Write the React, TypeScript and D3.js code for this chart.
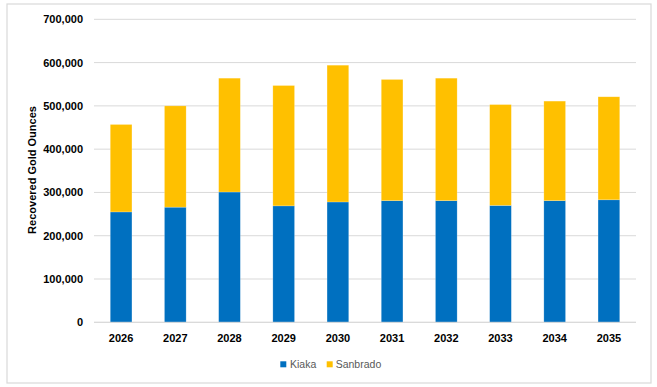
import React from "react";
import * as d3 from "d3";

const years = ["2026", "2027", "2028", "2029", "2030", "2031", "2032", "2033", "2034", "2035"];
const kiaka = [255000, 266000, 301000, 269000, 278000, 281000, 281000, 270000, 281000, 283000];
const sanbrado = [202000, 234000, 263000, 278000, 316000, 280000, 283000, 233000, 230000, 238000];
const yTicks = [0, 100000, 200000, 300000, 400000, 500000, 600000, 700000];
const seriesNames = ["Kiaka", "Sanbrado"];
const colors = ["#0070C0", "#FFC000"];

const W = 657;
const H = 387;
const plot = { left: 94, right: 636, top: 19.3, bottom: 322.3 };
const font = "'Liberation Sans', Arial, sans-serif";

export default function App() {
  const x = d3.scaleBand<string>().domain(years).range([plot.left, plot.right]).paddingInner(0.6).paddingOuter(0.3);
  const y = d3.scaleLinear().domain([0, 700000]).range([plot.bottom, plot.top]);
  const fmt = d3.format(",");
  const rows = years.map((yr, i) => ({ year: yr, Kiaka: kiaka[i], Sanbrado: sanbrado[i] }));
  const stacked = d3.stack<any>().keys(seriesNames)(rows);

  return (
    <svg width={W} height={H} style={{ position: "absolute", left: 0, top: 0, background: "#fff" }}>
      <rect x={7} y={4} width={644} height={379} fill="#fff" stroke="#d9d9d9" strokeWidth={1.2} />
      {yTicks.map((t) => (
        <g key={t}>
          <line x1={plot.left} x2={plot.right} y1={y(t)} y2={y(t)} stroke="#d9d9d9" strokeWidth={1} />
          <text x={83} y={y(t)} dy="0.36em" textAnchor="end" fontFamily={font} fontWeight="bold" fontSize={11} fill="#000">
            {fmt(t)}
          </text>
        </g>
      ))}
      {stacked.map((s, si) => (
        <g key={s.key} fill={colors[si]}>
          {s.map((d, i) => (
            <rect
              key={i}
              x={x(years[i])}
              width={x.bandwidth()}
              y={y(d[1])}
              height={y(d[0]) - y(d[1])}
              stroke="#ffffff"
              strokeOpacity={0.35}
              strokeWidth={0.6}
            />
          ))}
        </g>
      ))}
      <line x1={plot.left} x2={plot.right} y1={y(0)} y2={y(0)} stroke="#d9d9d9" strokeWidth={1} />
      {years.map((yr) => (
        <text key={yr} x={(x(yr) as number) + x.bandwidth() / 2} y={342} textAnchor="middle" fontFamily={font} fontWeight="bold" fontSize={11} fill="#000">
          {yr}
        </text>
      ))}
      <text
        transform={`translate(36,170) rotate(-90)`}
        textAnchor="middle"
        fontFamily={font}
        fontWeight="bold"
        fontSize={11}
        fill="#000"
      >
        Recovered Gold Ounces
      </text>
      <g>
        <rect x={280.3} y={361.3} width={6} height={6} fill={colors[0]} />
        <text x={290} y={368} fontFamily={font} fontSize={10.5} fill="#595959">{seriesNames[0]}</text>
        <rect x={326.7} y={361.3} width={6} height={6} fill={colors[1]} />
        <text x={335.7} y={368} fontFamily={font} fontSize={10.5} fill="#595959">{seriesNames[1]}</text>
      </g>
    </svg>
  );
}
